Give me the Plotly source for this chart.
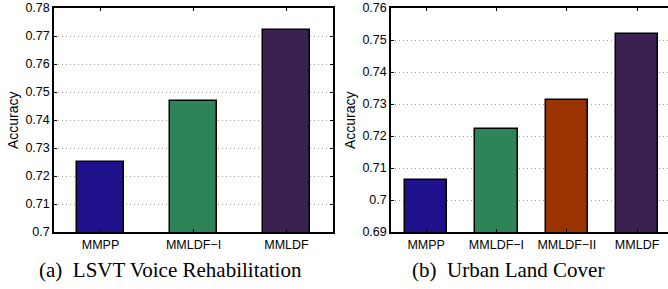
import plotly.graph_objects as go

W, H = 668, 289

cats_a = ["MMPP", "MMLDF−I", "MMLDF"]
vals_a = [0.725, 0.7468, 0.772]
colors_a = ["#1f118c", "#2e8459", "#3a2152"]

cats_b = ["MMPP", "MMLDF−I", "MMLDF−II", "MMLDF"]
vals_b = [0.7062, 0.7221, 0.7311, 0.7518]
colors_b = ["#1f118c", "#2e8459", "#9a3300", "#3a2152"]

yticks_a = [0.7, 0.71, 0.72, 0.73, 0.74, 0.75, 0.76, 0.77, 0.78]
yticks_b = [0.69, 0.7, 0.71, 0.72, 0.73, 0.74, 0.75, 0.76]

caption_a = "(a)  LSVT Voice Rehabilitation"
caption_b = "(b)  Urban Land Cover"

fig = go.Figure()
fig.add_trace(go.Bar(x=list(range(1, len(cats_a) + 1)), y=vals_a, width=0.5,
                     marker=dict(color=colors_a, line=dict(color="black", width=1.5)),
                     xaxis="x", yaxis="y", showlegend=False))
fig.add_trace(go.Bar(x=list(range(1, len(cats_b) + 1)), y=vals_b, width=0.6,
                     marker=dict(color=colors_b, line=dict(color="black", width=1.5)),
                     xaxis="x2", yaxis="y2", showlegend=False))

tickfont = dict(family="Liberation Sans, Arial, sans-serif", size=12.5, color="black")

def px_x(p):
    return p / W

def px_y(p):
    return 1 - p / H

common_x = dict(showgrid=False, zeroline=False, showline=True, linecolor="black", linewidth=1.5,
                ticks="inside", ticklen=3, tickcolor="black", tickfont=tickfont, mirror="ticks",
                automargin=False)
common_y = dict(showgrid=True, gridcolor="#a0a0a0", griddash="1px,3px", gridwidth=1, zeroline=False,
                showline=True, linecolor="black", linewidth=1.5, ticks="inside", ticklen=3,
                tickcolor="black", tickfont=tickfont, automargin=False)

fig.update_layout(
    width=W, height=H, margin=dict(l=0, r=0, t=0, b=0, autoexpand=False),
    paper_bgcolor="white", plot_bgcolor="white", bargap=0,
    xaxis=dict(domain=[px_x(54), px_x(333)], range=[0.5, 3.5], anchor="y",
               tickvals=list(range(1, len(cats_a) + 1)), ticktext=cats_a, **common_x),
    yaxis=dict(domain=[px_y(232), px_y(8)], range=[0.7, 0.78], anchor="x",
               tickvals=yticks_a, ticktext=[f"{v:g}" for v in yticks_a], mirror="ticks", **common_y),
    xaxis2=dict(domain=[px_x(391), 1.0], range=[0.5, 4.44], anchor="y2",
                tickvals=list(range(1, len(cats_b) + 1)), ticktext=cats_b, **common_x),
    yaxis2=dict(domain=[px_y(232), px_y(8)], range=[0.69, 0.76], anchor="x2",
                tickvals=yticks_b, ticktext=[f"{v:g}" for v in yticks_b], **common_y),
)

serif = dict(family="Liberation Serif, Times New Roman, serif", size=21, color="black")
fig.add_annotation(x=px_x(170), y=px_y(270), xref="paper", yref="paper", text=caption_a,
                   showarrow=False, font=serif, xanchor="center", yanchor="middle")
fig.add_annotation(x=px_x(508), y=px_y(270), xref="paper", yref="paper", text=caption_b,
                   showarrow=False, font=serif, xanchor="center", yanchor="middle")

label_font = dict(family="Liberation Sans, Arial, sans-serif", size=14, color="black")
fig.add_annotation(x=px_x(13), y=px_y(120), xref="paper", yref="paper", text="Accuracy",
                   showarrow=False, font=label_font, textangle=-90, xanchor="center", yanchor="middle")
fig.add_annotation(x=px_x(350), y=px_y(120), xref="paper", yref="paper", text="Accuracy",
                   showarrow=False, font=label_font, textangle=-90, xanchor="center", yanchor="middle")

fig.write_html("out.html", config={"displayModeBar": False},
               post_script="document.body.style.margin='0px';")
